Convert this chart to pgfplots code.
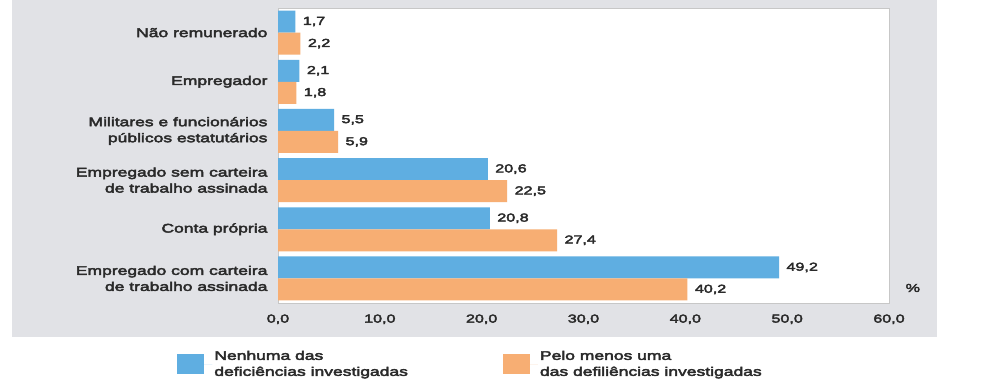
\documentclass[border=0pt]{standalone}
\usepackage{pgfplots}
\pgfplotsset{compat=1.18}
\usepackage{fontspec}
\setmainfont{Liberation Sans}[FakeStretch=1.4,FakeBold=3.5]
\definecolor{bblue}{HTML}{5FAEE1}
\definecolor{borange}{HTML}{F7AE73}
\definecolor{bggray}{HTML}{E1E2E6}
\definecolor{txt}{HTML}{2A2A2A}
\begin{document}
\begin{tikzpicture}
\fill[white] (0,0) rectangle (984pt,389pt);
\fill[bggray] (12pt,52pt) rectangle (937pt,389pt);
\begin{axis}[
  at={(278pt,86pt)}, anchor=south west,
  scale only axis, width=611pt, height=295pt,
  xbar, bar width=22pt,
  xmin=0, xmax=60, ymin=-0.5, ymax=5.5,
  xtick={0,10,...,60},
  ytick={0,...,5},
  yticklabels={{Empregado com carteira\\de trabalho assinada},{Conta própria},{Empregado sem carteira\\de trabalho assinada},{Militares e funcionários\\públicos estatutários},{Empregador},{Não remunerado}},
  major tick length=0pt,
  axis line style={draw=black!22, line width=1pt},
  axis background/.style={fill=white},
  /pgf/number format/assume math mode=true,
  xticklabel={\pgfmathprintnumber[fixed,fixed zerofill,precision=1,use comma]{\tick}},
  xticklabel style={font=\fontsize{11.5}{14}\selectfont, text=txt, yshift=-8pt},
  yticklabel style={font=\fontsize{12.5}{16}\selectfont, text=txt, align=right, xshift=-7pt},
  nodes near coords={\pgfmathprintnumber[fixed,fixed zerofill,precision=1,use comma]{\pgfplotspointmeta}},
  point meta=x,
  every node near coord/.append style={anchor=west, font=\fontsize{11.5}{14}\selectfont, text=txt, xshift=4pt},
  clip=false,
  legend columns=2,
  legend style={at={(-0.165,-0.207)}, anchor=west, draw=none, fill=none, inner sep=0pt,
    font=\fontsize{12.5}{16}\selectfont, text=txt,
    /tikz/every even column/.append style={column sep=93pt}},
  legend cell align=left,
  legend image code/.code={\fill[#1] (0pt,-10pt) rectangle (27pt,10pt); \path (0pt,0pt) -- (35pt,0pt);},
]
\addplot[fill=bblue, draw=none, bar shift=11pt] coordinates {(49.2,0) (20.8,1) (20.6,2) (5.5,3) (2.1,4) (1.7,5)};
\addplot[fill=borange, draw=none, bar shift=-11pt] coordinates {(40.2,0) (27.4,1) (22.5,2) (5.9,3) (1.8,4) (2.2,5)};
\addlegendentry[align=left]{Nenhuma das\\deficiências investigadas}
\addlegendentry[align=left]{Pelo menos uma\\das defiliências investigadas}
\node[font=\fontsize{11.5}{14}\selectfont, text=txt] at (rel axis cs:1.039,0.051) {\%};
\end{axis}
\end{tikzpicture}
\end{document}
